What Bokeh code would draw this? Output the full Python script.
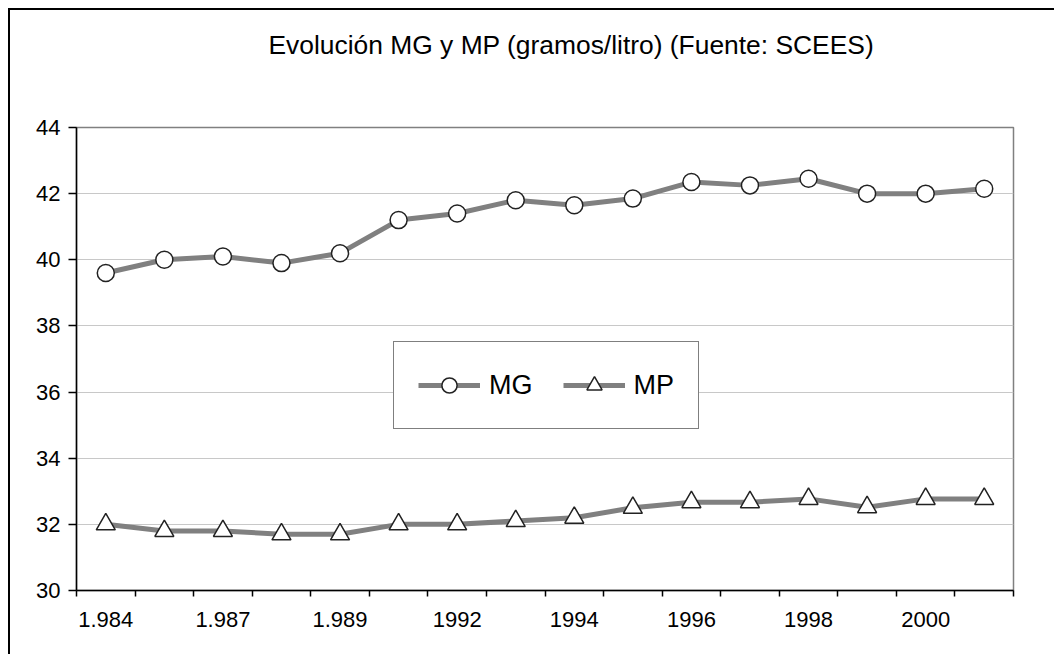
from bokeh.plotting import figure
from bokeh.models import Range1d, FixedTicker, Legend, LegendItem, Title
from bokeh.embed import file_html
from bokeh.resources import INLINE

# ---- data ----
categorias = ["1.984", "1.985", "1.987", "1.988", "1.989", "1.990", "1992", "1993",
              "1994", "1995", "1996", "1997", "1998", "1999", "2000", "2001"]
mg = [39.6, 40.0, 40.1, 39.9, 40.2, 41.2, 41.4, 41.8, 41.65, 41.85, 42.35, 42.25, 42.45, 42.0, 42.0, 42.15]
mp = [32.0, 31.8, 31.8, 31.7, 31.7, 32.0, 32.0, 32.1, 32.2, 32.5, 32.67, 32.67, 32.77, 32.52, 32.77, 32.77]
y_ticks = [30, 32, 34, 36, 38, 40, 42, 44]
titulo = "Evolución MG y MP (gramos/litro) (Fuente: SCEES)"

FONT = "Liberation Sans"
x = list(range(len(categorias)))
n = len(categorias)

p = figure(width=1046, height=646,
           x_range=Range1d(-0.5, n - 0.5), y_range=Range1d(y_ticks[0], y_ticks[-1]),
           output_backend="svg", toolbar_location=None,
           min_border_left=66, min_border_right=43, min_border_top=117, min_border_bottom=66,
           styles={"border-left": "2px solid black", "border-top": "2px solid black"})
p.margin = (8, 8, 8, 8)
p.background_fill_color = "white"
p.border_fill_color = "white"
p.outline_line_color = "#808080"
p.outline_line_width = 1.5

p.title = Title(text=titulo, align="left", offset=192, text_font=FONT,
                text_font_size="26.4px", text_font_style="normal", text_color="black",
                vertical_align="top", standoff=31.6)
# blank spacer between the title and the plot area
p.add_layout(Title(text=" ", text_font=FONT, text_font_size="26.4px", standoff=16.5), "above")

# x axis: ticks between categories, labels every other category
lab_ticks = list(range(0, n, 2))
p.xaxis.ticker = FixedTicker(ticks=lab_ticks, minor_ticks=[i - 0.5 for i in range(n + 1)])
p.xaxis.major_label_overrides = {i: categorias[i] for i in lab_ticks}
p.xaxis.major_tick_out = 0
p.xaxis.major_tick_in = 0
p.xaxis.minor_tick_out = 6
p.xaxis.minor_tick_in = 0
p.xaxis.minor_tick_line_color = "black"
p.xaxis.minor_tick_line_width = 1.5
p.xaxis.axis_line_color = "black"
p.xaxis.axis_line_width = 1.5
p.xaxis.major_label_text_font = FONT
p.xaxis.major_label_text_font_size = "22px"
p.xaxis.major_label_text_color = "black"
p.xaxis.major_label_standoff = 15

p.yaxis.ticker = FixedTicker(ticks=y_ticks, minor_ticks=[])
p.yaxis.major_tick_out = 8
p.yaxis.major_tick_in = 0
p.yaxis.major_tick_line_color = "black"
p.yaxis.major_tick_line_width = 1.5
p.yaxis.axis_line_color = "black"
p.yaxis.axis_line_width = 1.5
p.yaxis.major_label_text_font = FONT
p.yaxis.major_label_text_font_size = "22px"
p.yaxis.major_label_text_color = "black"
p.yaxis.major_label_standoff = 8

p.xgrid.visible = False
p.ygrid.ticker = FixedTicker(ticks=y_ticks)
p.ygrid.grid_line_color = "#c8c8c8"
p.ygrid.grid_line_width = 1

LINE = "#808080"
l1 = p.line(x, mg, line_color=LINE, line_width=5)
s1 = p.scatter(x, mg, marker="circle", size=17, fill_color="white",
               line_color="#222222", line_width=1.5)
l2 = p.line(x, mp, line_color=LINE, line_width=5)
s2 = p.scatter(x, mp, marker="triangle", size=19, fill_color="white",
               line_color="#222222", line_width=1.5)

legend = Legend(items=[LegendItem(label="MG", renderers=[l1, s1]),
                       LegendItem(label="MP", renderers=[l2, s2])],
                orientation="horizontal", location=(317, 161),
                border_line_color="black", border_line_width=1,
                background_fill_color="white", background_fill_alpha=1,
                label_text_font=FONT, label_text_font_size="27px", label_text_color="black",
                glyph_width=62, glyph_height=38, label_height=38,
                label_standoff=9, spacing=30, padding=24, margin=0)
p.add_layout(legend)

open("out.html", "w").write(file_html(p, INLINE))
